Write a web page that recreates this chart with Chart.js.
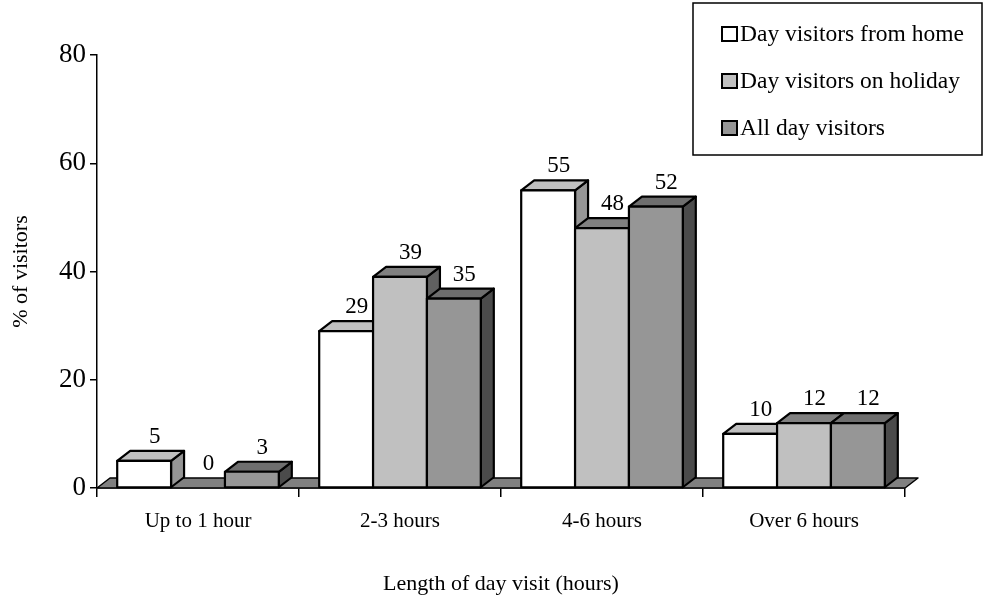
<!DOCTYPE html>
<html>
<head>
<meta charset="utf-8">
<script src="https://cdn.jsdelivr.net/npm/chart.js@4/dist/chart.umd.min.js"></script>
<style>
  html, body { margin: 0; padding: 0; background: #ffffff; }
  #wrap { width: 983px; height: 599px; }
</style>
</head>
<body>
<div id="wrap"><canvas id="chart" width="983" height="599"></canvas></div>
<script>
// Length of day visit, share of visitors (%)
const categories = ['Up to 1 hour', '2-3 hours', '4-6 hours', 'Over 6 hours'];
const seriesNames = ['Day visitors from home', 'Day visitors on holiday', 'All day visitors'];
const fromHome = [5, 29, 55, 10];
const onHoliday = [0, 39, 48, 12];
const allVisitors = [3, 35, 52, 12];
const yTicks = [0, 20, 40, 60, 80];

const SERIF = '"Liberation Serif", "Times New Roman", serif';

// face colours for each series: front, top, side
const faces = [
  { front: '#ffffff', top: '#c0c0c0', side: '#969696' },
  { front: '#c0c0c0', top: '#808080', side: '#606060' },
  { front: '#969696', top: '#6e6e6e', side: '#4b4b4b' }
];

// depth of the extruded bars and the floor
const DX = 13, DY = 10;

const extrude = {
  id: 'extrude',
  beforeDatasetsDraw(chart) {
    const { ctx, chartArea: a } = chart;
    ctx.save();
    ctx.beginPath();
    ctx.moveTo(a.left, a.bottom);
    ctx.lineTo(a.left + DX, a.bottom - DY);
    ctx.lineTo(a.right + DX, a.bottom - DY);
    ctx.lineTo(a.right, a.bottom);
    ctx.closePath();
    ctx.fillStyle = '#808080';
    ctx.fill();
    ctx.lineWidth = 1.5;
    ctx.strokeStyle = '#000000';
    ctx.lineJoin = 'round';
    ctx.stroke();
    ctx.restore();
  },
  afterDatasetsDraw(chart) {
    const { ctx } = chart;
    const bars = [];
    chart.data.datasets.forEach((ds, di) => {
      chart.getDatasetMeta(di).data.forEach((el, i) => {
        const p = el.getProps(['x', 'y', 'base', 'width'], true);
        bars.push({ p, v: ds.data[i], c: faces[di] });
      });
    });
    bars.sort((m, n) => m.p.x - n.p.x);
    ctx.save();
    ctx.lineWidth = 2.2;
    ctx.strokeStyle = '#000000';
    ctx.lineJoin = 'round';
    bars.forEach(({ p, v, c }) => {
      if (v <= 0) return;
      const l = p.x - p.width / 2, r = p.x + p.width / 2;
      const t = p.y, b = p.base;
      // side face
      ctx.beginPath();
      ctx.moveTo(r, t);
      ctx.lineTo(r + DX, t - DY);
      ctx.lineTo(r + DX, b - DY);
      ctx.lineTo(r, b);
      ctx.closePath();
      ctx.fillStyle = c.side;
      ctx.fill();
      ctx.stroke();
      // top face
      ctx.beginPath();
      ctx.moveTo(l, t);
      ctx.lineTo(l + DX, t - DY);
      ctx.lineTo(r + DX, t - DY);
      ctx.lineTo(r, t);
      ctx.closePath();
      ctx.fillStyle = c.top;
      ctx.fill();
      ctx.stroke();
      // front face
      ctx.beginPath();
      ctx.rect(l, t, r - l, b - t);
      ctx.fillStyle = c.front;
      ctx.fill();
      ctx.stroke();
    });
    // value labels above each bar
    ctx.fillStyle = '#000000';
    ctx.font = '23px ' + SERIF;
    ctx.textAlign = 'center';
    ctx.textBaseline = 'middle';
    bars.forEach(({ p, v }) => {
      ctx.fillText(String(v), p.x + DX / 2 + 4, p.y - DY - 14);
    });
    ctx.restore();
  },
  afterDraw(chart) {
    // boxed legend in the top-right corner
    const { ctx } = chart;
    const bx = 693, by = 3, bw = 289, bh = 152;
    ctx.save();
    ctx.fillStyle = '#ffffff';
    ctx.fillRect(bx, by, bw, bh);
    ctx.lineWidth = 1.5;
    ctx.strokeStyle = '#000000';
    ctx.strokeRect(bx, by, bw, bh);
    const rows = [34, 81, 128];
    ctx.font = '23.5px ' + SERIF;
    ctx.textAlign = 'left';
    ctx.textBaseline = 'middle';
    seriesNames.forEach((name, i) => {
      ctx.fillStyle = faces[i].front;
      ctx.fillRect(722, rows[i] - 7, 15, 14);
      ctx.lineWidth = 2;
      ctx.strokeRect(722, rows[i] - 7, 15, 14);
      ctx.fillStyle = '#000000';
      ctx.fillText(name, 740, rows[i] + 1);
    });
    ctx.restore();
  }
};

const datasets = [fromHome, onHoliday, allVisitors].map((vals, i) => ({
  label: seriesNames[i],
  data: vals,
  backgroundColor: faces[i].front,
  borderColor: '#000000',
  borderWidth: 0,
  categoryPercentage: 0.8,
  barPercentage: 1.0
}));

new Chart(document.getElementById('chart'), {
  type: 'bar',
  data: { labels: categories, datasets },
  plugins: [extrude],
  options: {
    responsive: false,
    animation: false,
    devicePixelRatio: 1,
    layout: { padding: { left: 0, top: 55, right: 78, bottom: 0 } },
    plugins: {
      legend: { display: false },
      tooltip: { enabled: false }
    },
    scales: {
      x: {
        offset: true,
        grid: {
          offset: true,
          drawOnChartArea: false,
          drawTicks: true,
          tickLength: 9,
          color: '#000000',
          lineWidth: 1.5
        },
        border: { color: '#000000', width: 1.5 },
        ticks: {
          color: '#000000',
          font: { family: SERIF, size: 21 },
          padding: 12,
          maxRotation: 0
        },
        title: {
          display: true,
          text: 'Length of day visit (hours)',
          color: '#000000',
          font: { family: SERIF, size: 22 },
          padding: { top: 0, bottom: 2 }
        },
        afterFit(scale) { scale.height = 111; }
      },
      y: {
        min: 0,
        max: 80,
        afterBuildTicks(scale) { scale.ticks = yTicks.map(v => ({ value: v })); },
        grid: {
          drawOnChartArea: false,
          drawTicks: true,
          tickLength: 7,
          color: '#000000',
          lineWidth: 1.5
        },
        border: { color: '#000000', width: 1.5 },
        ticks: {
          color: '#000000',
          font: { family: SERIF, size: 27 },
          padding: 4
        },
        title: {
          display: true,
          text: '% of visitors',
          color: '#000000',
          font: { family: SERIF, size: 22 },
          padding: { top: 8, bottom: 0 }
        },
        afterFit(scale) { scale.width = 97; }
      }
    }
  }
});
</script>
</body>
</html>
